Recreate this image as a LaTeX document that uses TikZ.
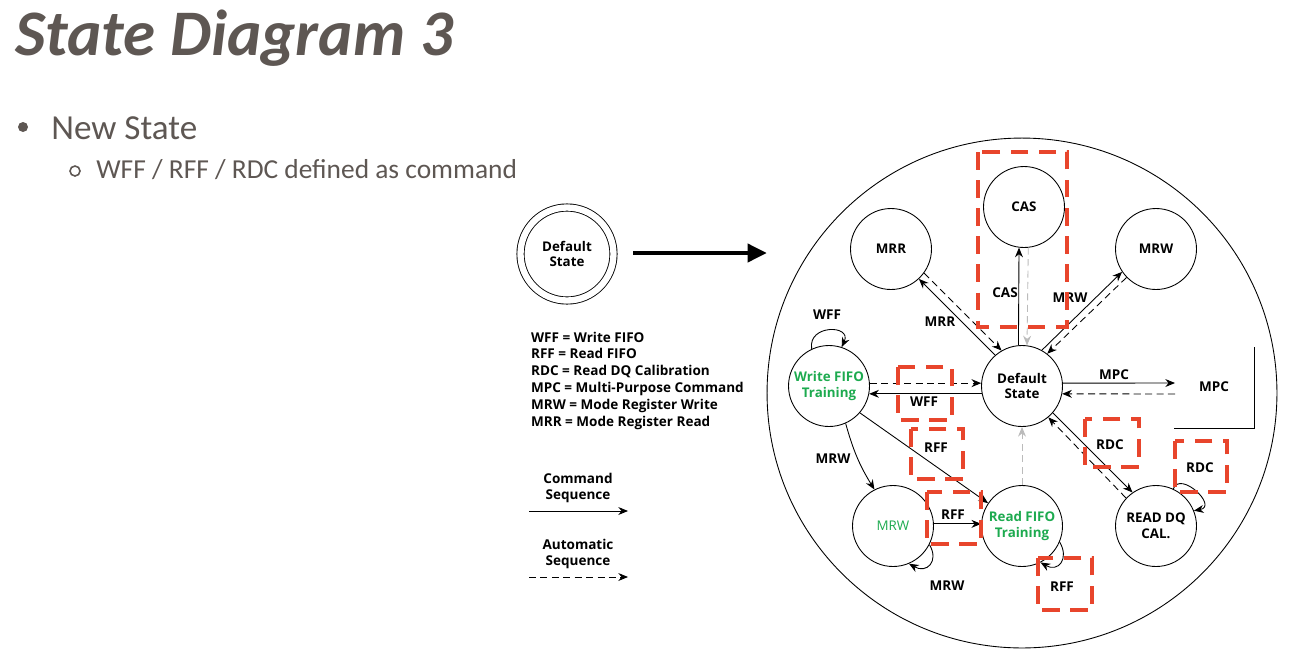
\documentclass[tikz,border=0pt]{standalone}
\usepackage{fontspec}
\setmainfont{Carlito}
\newfontfamily\diagfont{Open Sans}
\usetikzlibrary{arrows.meta}
\definecolor{slidegray}{HTML}{5E5753}
\definecolor{trainGreen}{HTML}{1DAA4F}
\definecolor{markRed}{HTML}{E8452C}
\definecolor{autoGray}{HTML}{BBBBBB}

\begin{document}
\begin{tikzpicture}[x=0.02cm,y=-0.02cm,
    state/.style={circle,draw,line width=0.5pt,minimum size=1.62cm,inner sep=0pt,align=center,
      font=\diagfont\bfseries\fontsize{7.6}{9}\selectfont},
    lbl/.style={font=\diagfont\bfseries\fontsize{7.7}{9.6}\selectfont,inner sep=1pt,align=center},
    cmd/.style={line width=0.5pt,-{Stealth[length=5.5pt,width=4.5pt]}},
    autoseq/.style={line width=0.5pt,dash pattern=on 4pt off 2.5pt,-{Stealth[length=5.5pt,width=4.5pt]}},
    redbox/.style={draw=markRed,line width=2.3pt,dash pattern=on 10pt off 6pt}]

\useasboundingbox (0,0) rectangle (1292,650);

% slide text
\node[anchor=base west,inner sep=0,text=slidegray,font=\fontsize{37}{40}\selectfont\bfseries\itshape] (title) at (15,55) {State Diagram 3};
\fill[slidegray] (23,127) circle (5);
\node[anchor=base west,inner sep=0,text=slidegray,font=\fontsize{20}{24}\selectfont] (newstate) at (51,139) {New State};
\draw[slidegray,line width=0.9pt] (75,171) circle (5);
\node[anchor=base west,inner sep=0,text=slidegray,font=\fontsize{15.6}{18}\selectfont] (cmddef) at (96,178) {WFF / RFF / RDC defined as command};

% legend
\node[state,minimum size=1.86cm,double,double distance=3.6pt] (init) at (567,254) {Default\\State};
\coordinate (bigA) at (633,253);
\coordinate (bigB) at (767,253);
\draw[line width=2.8pt,-{Triangle[length=11pt,width=10pt]}] (bigA) -- (bigB);

\foreach \t [count=\i] in {WFF = Write FIFO, RFF = Read FIFO, RDC = Read DQ Calibration,
    MPC = Multi-Purpose Command, MRW = Mode Register Write, MRR = Mode Register Read}
  \node[lbl,anchor=base west] (abbr\i) at (529,{342+16.8*(\i-1)}) {\t};

\node[lbl] (cmdtxt) at (578,488) {Command\\Sequence};
\coordinate (cmdA) at (529,511);
\coordinate (cmdB) at (628,511);
\draw[cmd] (cmdA) -- (cmdB);
\node[lbl] (autotxt) at (578,554) {Automatic\\Sequence};
\coordinate (autoA) at (529,577);
\coordinate (autoB) at (628,577);
\draw[autoseq] (autoA) -- (autoB);

% states
\node[circle,draw,line width=0.5pt,minimum size=10.2cm] (outer) at (1022,393) {};
\node[state] (cas) at (1024,207) {CAS};
\node[state] (mrr) at (891,249) {MRR};
\node[state] (mrw) at (1156,249) {MRW};
\node[state] (def) at (1022,386) {Default\\State};
\node[state,text=trainGreen] (wft) at (829,386) {Write FIFO\\Training};
\node[state,text=trainGreen,font=\diagfont\fontsize{7.6}{9}\selectfont] (mrwg) at (893,526) {MRW};
\node[state,text=trainGreen] (rft) at (1022,526) {Read FIFO\\Training};
\node[state] (rdq) at (1156,526) {READ DQ\\CAL.};
\node[lbl] (mpc) at (1214,387) {MPC};
\coordinate (mpcin) at (1175,383);
\coordinate (mpcout) at (1175,394);
\draw[line width=0.5pt] (1174,428) -- (1254,428) -- (1254,347);

% transitions
\draw[cmd] (def.95) -- (cas.263);
\draw[autoseq,autoGray] (cas.276) -- (def.83);
\node[lbl] (lcas) at (1005,293) {CAS};

\draw[cmd] (def.131) -- (mrr.-47);
\draw[autoseq] (mrr.-36) -- (def.120);
\node[lbl] (lmrr) at (940,322) {MRR};

\draw[cmd] (def.61) -- (mrw.214);
\draw[autoseq] (mrw.224) -- (def.52);
\node[lbl] (lmrw) at (1070,298) {MRW};

\draw[autoseq] (wft.4) -- (def.176);
\draw[cmd] (def.191) -- (wft.-11);
\node[lbl] (lwff) at (924,402) {WFF};

\draw[cmd] (def.4) -- (mpcin);
\draw[autoseq] (mpcout) -- (def.-11);
\node[lbl] (lmpc) at (1114,375) {MPC};

\draw[cmd] (wft.115) .. controls +(100:0.5cm) and +(65:0.5cm) .. (wft.72);
\node[lbl] (lwffloop) at (827,315) {WFF};

\draw[cmd] (wft.-66) to[bend right=8] (mrwg.117);
\node[lbl] (lmrwg) at (833,459) {MRW};
\draw[cmd] (wft.-41) -- (rft.146);
\node[lbl] (lrff) at (936,448) {RFF};
\draw[cmd] (mrwg.3) -- (rft.177);
\node[lbl] (lrffm) at (953,515) {RFF};

\draw[cmd] (mrwg.-27) .. controls +(-60:0.4cm) and +(-30:0.4cm) .. (mrwg.-67);
\node[lbl] (lmrwloop) at (947,586) {MRW};

\draw[autoseq,autoGray] (rft.north) -- (def.south);
\draw[cmd] (rft.-23) .. controls +(-60:0.4cm) and +(-30:0.4cm) .. (rft.-63);
\node[lbl] (lrffloop) at (1062,587) {RFF};

\draw[cmd] (def.-41) -- (rdq.125);
\draw[autoseq] (rdq.137) -- (def.-50);
\node[lbl] (lrdc) at (1110,445) {RDC};
\draw[cmd] (rdq.65) .. controls +(70:0.4cm) and +(10:0.5cm) .. (rdq.22);
\node[lbl] (lrdcloop) at (1200,468) {RDC};

% new commands
\foreach \xa/\ya/\xb/\yb in {978/152/1067/327, 898/367/952/420, 911/429/963/479,
    1085/419/1139/467, 1175/441/1227/492, 927/492/981/544, 1038/558/1092/610}
  \draw[redbox] (\xa,\ya) rectangle (\xb,\yb);
\end{tikzpicture}
\end{document}
